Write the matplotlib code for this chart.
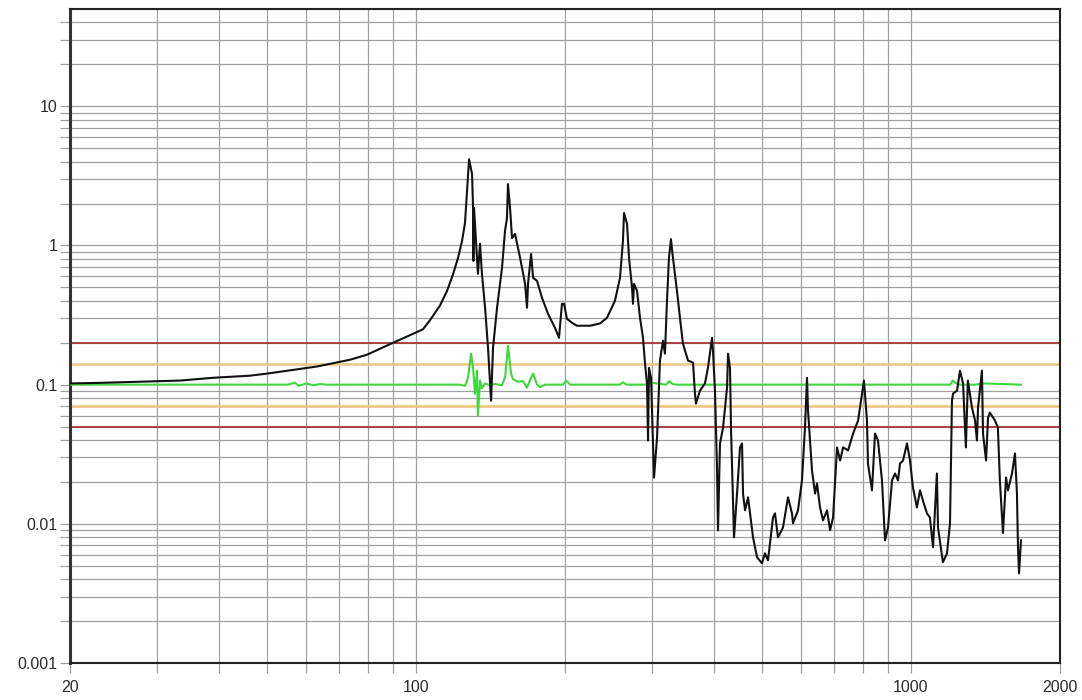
import numpy as np
from matplotlib import pyplot as plt
from matplotlib.ticker import FixedLocator, NullFormatter

# Measured response (frequency in Hz, magnitude)
freq = [20, 23.0, 33.4, 38.9, 46.2, 50.0, 63.1, 73.6, 79.6, 89.9,
        96.0, 103.3, 106.7, 111.8, 115.5, 118.8, 121.6, 123.9, 125.6, 126.8, 128.0,
        129.8, 130.4, 130.6, 131.0,
        132.2, 133.4, 134.7, 135.9, 137.9, 139.8, 141.8, 143.1, 145.8, 149.2,
        151.3, 152.7, 153.4, 154.9, 156.3, 158.5, 162.3, 166.1, 167.6, 168.4,
        170.8, 172.4, 175.6, 179.7, 184.8, 190.9, 194.5, 197.2, 199.1, 201.8,
        206.7, 211.5, 224.6, 235.3, 243.1, 252.3, 258.3, 261.9, 263.2, 266.9, 269.4, 273.2,
        274.4, 275.7, 279.6, 283.5, 287.5, 290.2, 292.9, 294.3, 295.6, 298.4,
        302.6, 306.9, 311.1, 315.5, 318.4, 321.4, 324.4, 327.4, 330.5, 336.7,
        341.4, 346.2, 354.4, 362.8, 366.1, 367.8, 374.7, 383.5, 388.9, 396.3,
        398.1, 401.8, 405.6, 407.5, 411.3, 417.2, 425.0, 427.0, 430.9, 433.0,
        437.0, 439.0, 445.2, 451.4, 455.7, 457.8, 462.1, 468.6, 473.0, 479.6,
        488.6, 500.0, 507.0, 514.2, 526.3, 531.2, 538.6, 551.3, 564.3, 574.9,
        577.6, 591.2, 602.3, 610.7, 616.5, 619.4, 631.0, 640.0, 645.9, 655.0,
        664.2, 676.7, 686.3, 695.9, 709.0, 719.1, 729.1, 746.3, 763.8, 781.8,
        796.5, 803.5, 814.9, 818.6, 834.1, 845.9, 857.7, 873.8, 886.2, 898.6,
        915.5, 928.4, 941.4, 950.2, 963.6, 981.5, 995.4, 1009, 1028, 1043,
        1057, 1077, 1092, 1108, 1128, 1134, 1160, 1182, 1199, 1210,
        1216, 1239, 1256, 1274, 1291, 1303, 1328, 1347, 1359, 1366,
        1391, 1398, 1418, 1431, 1443, 1478, 1498, 1512, 1534, 1556,
        1570, 1600, 1622, 1637, 1645, 1653, 1668]
magnitude = [0.102, 0.103, 0.107, 0.112, 0.116, 0.120, 0.135, 0.151, 0.164, 0.200,
             0.222, 0.250, 0.290, 0.370, 0.470, 0.620, 0.814, 1.08, 1.45, 2.46, 4.17,
             3.26, 1.86, 0.774, 1.86,
             1.08, 0.625, 1.03, 0.625, 0.357, 0.184, 0.0768, 0.184, 0.357, 0.690,
             1.27, 1.58, 2.76, 1.86, 1.13, 1.21, 0.814, 0.530, 0.357, 0.530,
             0.869, 0.585, 0.557, 0.421, 0.323, 0.256, 0.217, 0.381, 0.381, 0.297,
             0.278, 0.265, 0.265, 0.275, 0.302, 0.400, 0.585, 1.08, 1.71, 1.43, 0.814, 0.496,
             0.381, 0.530, 0.472, 0.302, 0.217, 0.141, 0.102, 0.0397, 0.132, 0.112,
             0.0215, 0.0417, 0.149, 0.207, 0.167, 0.400, 0.814, 1.11, 0.814, 0.472,
             0.302, 0.197, 0.149, 0.144, 0.0862, 0.0731, 0.0906, 0.102, 0.132, 0.217,
             0.175, 0.0906, 0.0254, 0.00898, 0.0378, 0.0492, 0.0952, 0.167, 0.132, 0.0468,
             0.0147, 0.0080, 0.0165, 0.0354, 0.0378, 0.0165, 0.0125, 0.0155, 0.0119, 0.0080,
             0.00575, 0.00521, 0.00614, 0.00547, 0.0111, 0.0119, 0.0080, 0.0094, 0.0155, 0.0119,
             0.0101, 0.0125, 0.0205, 0.0492, 0.112, 0.0651, 0.0242, 0.0165, 0.0195, 0.0131,
             0.0106, 0.0125, 0.0090, 0.0111, 0.0354, 0.0285, 0.0354, 0.0337, 0.0445, 0.0552,
             0.0862, 0.107, 0.0552, 0.0271, 0.0174, 0.0445, 0.0397, 0.0205, 0.0076, 0.0094,
             0.0205, 0.0230, 0.0205, 0.0271, 0.0285, 0.0378, 0.0285, 0.0183, 0.0131, 0.0174,
             0.0147, 0.0119, 0.0111, 0.0068, 0.0230, 0.0094, 0.0053, 0.0061, 0.0101, 0.0768,
             0.0862, 0.0906, 0.126, 0.102, 0.0354, 0.107, 0.0684, 0.0552, 0.0397, 0.0684,
             0.126, 0.0445, 0.0285, 0.058, 0.063, 0.0552, 0.0492, 0.0205, 0.0086, 0.0215,
             0.0174, 0.0230, 0.0320, 0.0165, 0.0068, 0.0044, 0.0076]

# Reference trace around 0.1
ref_freq = [20, 55, 57, 58, 60, 62, 64, 66, 122.7, 125.6,
            127.4, 129.2, 130.4, 131.6, 132.8, 133.4, 134.7, 135.9, 137.9, 141.1,
            144.4, 149.2, 151.3, 153.4, 155.6, 157.0, 160.0, 164.6, 167.6, 170.0,
            172.4, 175.6, 178.1, 182.3, 198.2, 201.0, 204.8, 258, 262, 266,
            290, 300, 320, 325, 330, 337, 1200, 1215, 1230, 1250,
            1300, 1350, 1400, 1668]
ref_mag = [0.1, 0.1, 0.103, 0.098, 0.102, 0.099, 0.101, 0.1, 0.1, 0.098,
           0.112, 0.167, 0.132, 0.086, 0.126, 0.06, 0.107, 0.094, 0.102, 0.099,
           0.101, 0.099, 0.112, 0.19, 0.12, 0.11, 0.105, 0.106, 0.095, 0.108,
           0.12, 0.1, 0.096, 0.1, 0.1, 0.107, 0.1, 0.1, 0.104, 0.1,
           0.1, 0.103, 0.1, 0.106, 0.101, 0.1, 0.1, 0.107, 0.103, 0.1,
           0.1, 0.1, 0.102, 0.1]

# Tolerance bands
outer_limits = [0.2, 0.05]
inner_limits = [0.14, 0.07]

x_major = [20, 100, 1000, 2000]
x_grid = [30, 40, 50, 60, 70, 80, 90, 200, 300, 400, 500, 600, 700, 800, 900]
y_major = [0.001, 0.01, 0.1, 1, 10]
y_labels = ['0.001', '0.01', '0.1', '1', '10']
y_grid = [m * d for d in [0.001, 0.01, 0.1, 1] for m in range(2, 10)] + [20, 30, 40]

plt.rcParams['font.family'] = ['Liberation Sans', 'DejaVu Sans']

fig = plt.figure(figsize=(10.82, 7), dpi=100)
ax = fig.add_axes([70 / 1082, 37 / 700, 990 / 1082, 654 / 700])
ax.set_xscale('log')
ax.set_yscale('log')
ax.set_xlim(20, 2000)
ax.set_ylim(0.001, 50)

grid_kw = dict(color='#a0a0a0', linewidth=0.9, zorder=1)
for g in x_grid + [100, 1000]:
    ax.axvline(g, **grid_kw)
for g in y_grid + [0.01, 1, 10]:
    ax.axhline(g, **grid_kw)

for lim in outer_limits:
    ax.axhline(lim, color='#a8383a', linewidth=1.3, zorder=2)
for lim in inner_limits:
    ax.axhline(lim, color='#f0c47c', linewidth=1.8, zorder=2)

ax.plot(ref_freq, ref_mag, color='#3cd83c', linewidth=1.5, zorder=3)
ax.plot(freq, magnitude, color='#111111', linewidth=1.5, zorder=4)

ax.xaxis.set_major_locator(FixedLocator(x_major))
ax.xaxis.set_minor_locator(FixedLocator(x_grid + [100, 1000]))
ax.set_xticks(x_major)
ax.set_xticklabels([str(v) for v in x_major])
ax.xaxis.set_minor_formatter(NullFormatter())
ax.yaxis.set_major_locator(FixedLocator(y_major))
ax.set_yticklabels(y_labels)
ax.yaxis.set_minor_locator(FixedLocator(y_grid))
ax.yaxis.set_minor_formatter(NullFormatter())

ax.tick_params(which='both', direction='out', length=7, width=0.9, color='#a0a0a0',
               labelsize=11.5, labelcolor='#2a2a2a')
ax.tick_params(axis='x', which='both', pad=5)
ax.tick_params(axis='y', which='both', pad=2)

for side in ['top', 'right', 'bottom']:
    ax.spines[side].set_color('#222222')
    ax.spines[side].set_linewidth(1.5)
ax.spines['left'].set_color('#333333')
ax.spines['left'].set_linewidth(2.2)

fig.savefig('out.png', dpi=100)
